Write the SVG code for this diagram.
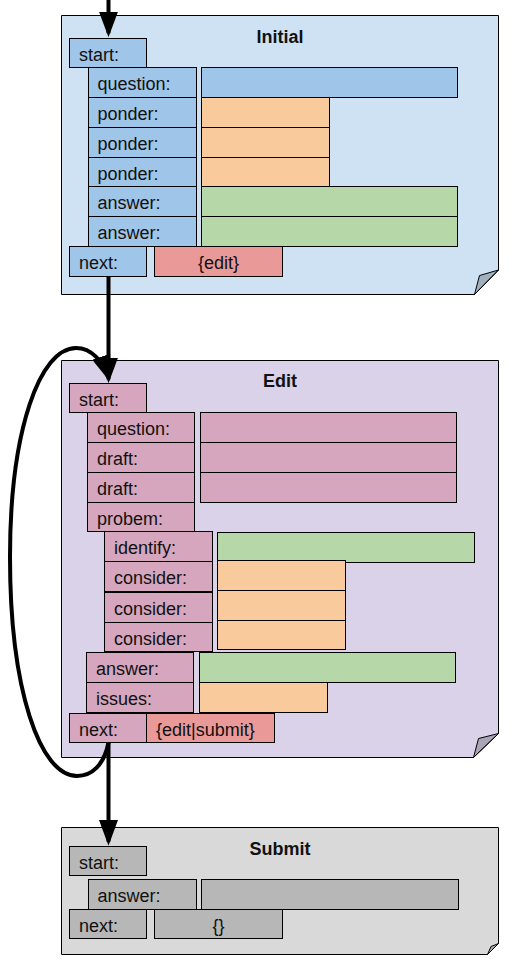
<svg xmlns="http://www.w3.org/2000/svg" width="512" height="969" viewBox="0 0 512 969">
<defs>
<style>
.page{stroke:#000;stroke-width:1}
.fold{fill:#000;fill-opacity:0.22;stroke:#000;stroke-width:1}
rect{stroke:#000;stroke-width:1}
text{font-family:"Liberation Sans",Arial,sans-serif;font-size:18px;fill:#111}
.title{font-weight:bold;text-anchor:middle}
.c{text-anchor:middle}
.lb1{fill:#9fc5e8}.lb2{fill:#d5a6bd}.lb3{fill:#b7b7b7}
.or{fill:#f9cb9c}.gr{fill:#b6d7a8}.rd{fill:#ea9999}
.conn{fill:none;stroke:#000;stroke-width:4}
</style>
<marker id="ah" markerUnits="userSpaceOnUse" markerWidth="26" markerHeight="20" viewBox="0 0 26 20" refX="21.6" refY="10" orient="auto">
<path d="M0,0.5 L25.6,10 L0,19.5 Z" fill="#000"/>
</marker>
</defs>

<g id="initial">
<path class="page" d="M61.5,15.5 H498.5 V270 L474.5,294.5 H61.5 Z" fill="#cfe2f3"/>
<polygon class="fold" points="498.5,270 479.5,275.5 474.5,294.5"/>
<text class="title" x="280" y="42.5">Initial</text>
<rect class="lb1" x="69.5" y="38.5" width="77" height="29"/><text x="79" y="60.5">start:</text>
<rect class="lb1" x="88.5" y="67.5" width="108" height="30"/><text x="97.5" y="90">question:</text>
<rect class="lb1" x="201.5" y="67.5" width="256" height="30"/>
<rect class="lb1" x="88.5" y="97.5" width="108" height="30"/><text x="97.5" y="120">ponder:</text>
<rect class="or" x="201.5" y="97.5" width="128" height="30"/>
<rect class="lb1" x="88.5" y="127.5" width="108" height="30"/><text x="97.5" y="150">ponder:</text>
<rect class="or" x="201.5" y="127.5" width="128" height="30"/>
<rect class="lb1" x="88.5" y="157.5" width="108" height="29"/><text x="97.5" y="179.5">ponder:</text>
<rect class="or" x="201.5" y="157.5" width="128" height="29"/>
<rect class="lb1" x="88.5" y="186.5" width="108" height="30"/><text x="97.5" y="209">answer:</text>
<rect class="gr" x="201.5" y="186.5" width="256" height="30"/>
<rect class="lb1" x="88.5" y="216.5" width="108" height="30"/><text x="97.5" y="239">answer:</text>
<rect class="gr" x="201.5" y="216.5" width="256" height="30"/>
<rect class="lb1" x="69.5" y="246.5" width="77" height="30"/><text x="79" y="269">next:</text>
<rect class="rd" x="154.5" y="246.5" width="128" height="30"/><text class="c" x="218.5" y="269">{edit}</text>
</g>

<g id="edit">
<path class="page" d="M61.5,360.5 H498.5 V733.5 L473.5,757.5 H61.5 Z" fill="#d9d2e9"/>
<polygon class="fold" points="498.5,733.5 478.5,738.5 473.5,757.5"/>
<text class="title" x="280" y="387">Edit</text>
<rect class="lb2" x="69.5" y="383.5" width="77" height="29"/><text x="79" y="405.5">start:</text>
<rect class="lb2" x="87.5" y="412.5" width="107" height="30"/><text x="97" y="435">question:</text>
<rect class="lb2" x="200.5" y="412.5" width="256" height="30"/>
<rect class="lb2" x="87.5" y="442.5" width="107" height="30"/><text x="97" y="465">draft:</text>
<rect class="lb2" x="200.5" y="442.5" width="256" height="30"/>
<rect class="lb2" x="87.5" y="472.5" width="107" height="30"/><text x="97" y="495">draft:</text>
<rect class="lb2" x="200.5" y="472.5" width="256" height="30"/>
<rect class="lb2" x="87.5" y="502.5" width="107" height="29"/><text x="97" y="524.5">probem:</text>
<rect class="gr" x="217.5" y="532.5" width="257" height="30"/>
<rect class="lb2" x="104.5" y="531.5" width="108" height="30"/><text x="114" y="554">identify:</text>
<rect class="or" x="217.5" y="560.5" width="128" height="30"/>
<rect class="or" x="217.5" y="590.5" width="128" height="30"/>
<rect class="or" x="217.5" y="620.5" width="128" height="29"/>
<rect class="lb2" x="104.5" y="561.5" width="108" height="30"/><text x="114" y="584">consider:</text>
<rect class="lb2" x="104.5" y="592.5" width="108" height="30"/><text x="114" y="615">consider:</text>
<rect class="lb2" x="104.5" y="622.5" width="108" height="29"/><text x="114" y="644.5">consider:</text>
<rect class="lb2" x="86.5" y="652.5" width="107" height="30"/><text x="96" y="675">answer:</text>
<rect class="gr" x="199.5" y="652.5" width="256" height="30"/>
<rect class="lb2" x="86.5" y="682.5" width="107" height="30"/><text x="96" y="705">issues:</text>
<rect class="or" x="199.5" y="682.5" width="128" height="30"/>
<rect class="lb2" x="69.5" y="713.5" width="77" height="29"/><text x="79" y="735.5">next:</text>
<rect class="rd" x="146.5" y="713.5" width="128" height="29"/><text x="156" y="735.5">{edit|submit}</text>
</g>

<g id="submit">
<path class="page" d="M61.5,827.5 H498.5 V943.5 L487.5,954.5 H61.5 Z" fill="#d9d9d9"/>
<polygon class="fold" points="498.5,943.5 491,946.5 487.5,954.5"/>
<text class="title" x="280" y="854.5">Submit</text>
<rect class="lb3" x="69.5" y="846.5" width="77" height="29"/><text x="79" y="868.5">start:</text>
<rect class="lb3" x="88.5" y="879.5" width="108" height="30"/><text x="97.5" y="902">answer:</text>
<rect class="lb3" x="201.5" y="879.5" width="257" height="30"/>
<rect class="lb3" x="69.5" y="909.5" width="77" height="29"/><text x="79" y="931.5">next:</text>
<rect class="lb3" x="154.5" y="909.5" width="128" height="29"/><text class="c" x="218.5" y="931.5">{}</text>
</g>

<g id="connectors">
<path class="conn" d="M108.5,0 V33.3" marker-end="url(#ah)"/>
<path class="conn" d="M108.5,276.5 V379.3" marker-end="url(#ah)"/>
<path class="conn" d="M108.5,742.5 V841.7" marker-end="url(#ah)"/>
<path class="conn" d="M108.5,742.5 C104,765 92,776 77,776 C40,776 10,690 10,557 C10,430 40,348 76,348 C92,348 103,362 108.1,377.2" marker-end="url(#ah)"/>
</g>
</svg>
